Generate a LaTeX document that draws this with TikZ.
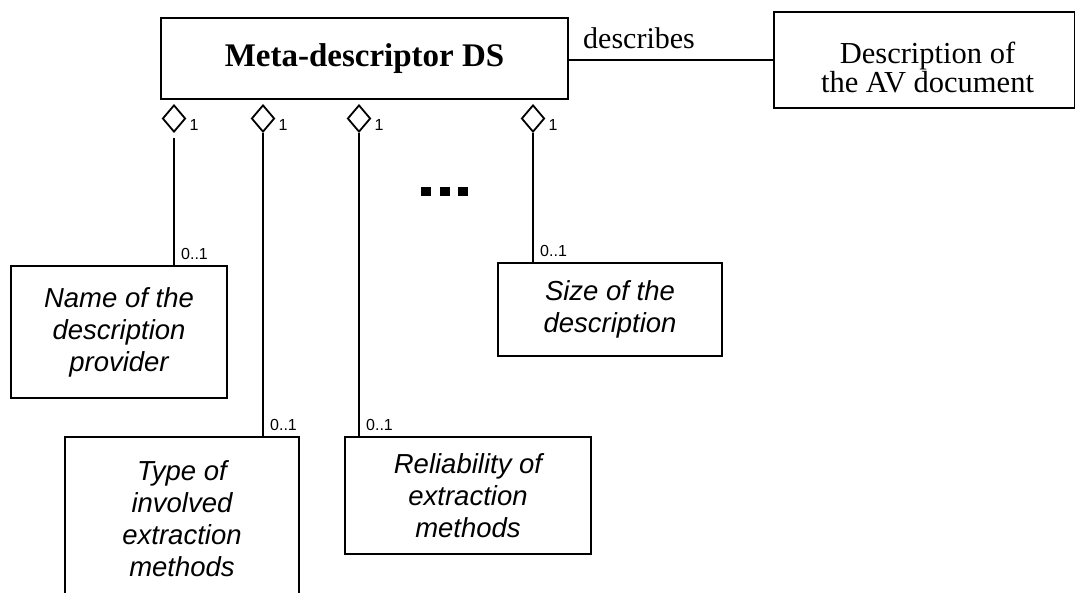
\documentclass[tikz,border=0pt]{standalone}
\usepackage{fontspec}
\setmainfont{Liberation Serif}
\newfontfamily\arial{Liberation Sans}
\usetikzlibrary{shapes.geometric}

\tikzset{
  classbox/.style={draw, line width=2pt, inner sep=0pt, anchor=north west, align=center},
  attrbox/.style={classbox, font=\arial\itshape\fontsize{27.5}{32}\selectfont},
  aggr/.style={diamond, draw, line width=1.8pt, inner sep=0pt, minimum width=23pt, minimum height=27pt},
  link/.style={line width=1.8pt},
  mult/.style={font=\arial\fontsize{16}{18}\selectfont, inner sep=0pt},
  dotsq/.style={fill=black}
}

\begin{document}
\begin{tikzpicture}[x=1pt, y=-1pt]
\clip (0,0) rectangle (1075,592);

% main class and the described document
\node[classbox, minimum width=407pt, minimum height=81pt,
      font=\bfseries\fontsize{33}{38}\selectfont] (meta) at (160,17) {Meta-descriptor DS};
\node[classbox, minimum width=301pt, minimum height=96pt] (desc) at (773,11) {};
\node[inner sep=0pt, align=center, font=\fontsize{30.5}{29}\selectfont]
      (desctext) at ([xshift=3pt,yshift=-7pt]desc.center) {Description of\\the AV document};
\draw[link] (meta.east |- desc.west) -- (desc.west);
\node[anchor=base west, inner sep=0pt, font=\fontsize{30}{34}\selectfont] (rel) at (583,48) {describes};

% attribute boxes
\node[attrbox, minimum width=216pt, minimum height=132pt] (name) at (10,265) {Name of the\\description\\provider};
\node[attrbox, minimum width=224pt, minimum height=93pt] (size) at (497,262) {Size of the\\description};
\node[attrbox, minimum width=234pt, minimum height=163pt] (type) at (64,436) {Type of\\involved\\extraction\\methods};
\node[attrbox, minimum width=246pt, minimum height=117pt] (reli) at (344,436) {Reliability of\\extraction\\methods};

% aggregation diamonds
\node[aggr] (d1) at (174,118.5) {};
\node[aggr] (d2) at (263,118.5) {};
\node[aggr] (d3) at (359,118.5) {};
\node[aggr] (d4) at (533,118.5) {};

\foreach \d in {d1,d2,d3,d4}
  \node[mult, anchor=base west] (\d m) at ([xshift=3pt]\d.east |- 0,130) {1};

% composition links
\draw[link] ([yshift=-5pt]d1.south) -- (d1.south |- name.north);
\draw[link] (d2.south) -- (d2.south |- type.north);
\draw[link] (d3.south) -- (d3.south |- reli.north);
\draw[link] (d4.south) -- (d4.south |- size.north);

% lower multiplicities
\node[mult, anchor=base west] (m1) at ([xshift=7pt]d1.south |- 0,259) {0..1};
\node[mult, anchor=base west] (m2) at ([xshift=7pt]d2.south |- 0,430) {0..1};
\node[mult, anchor=base west] (m3) at ([xshift=7pt]d3.south |- 0,430) {0..1};
\node[mult, anchor=base west] (m4) at ([xshift=7pt]d4.south |- 0,256) {0..1};

% ellipsis squares
\fill[dotsq] (421,187) rectangle (431,196);
\fill[dotsq] (439.5,187) rectangle (449.5,196);
\fill[dotsq] (458,187) rectangle (468,196);
\end{tikzpicture}
\end{document}
